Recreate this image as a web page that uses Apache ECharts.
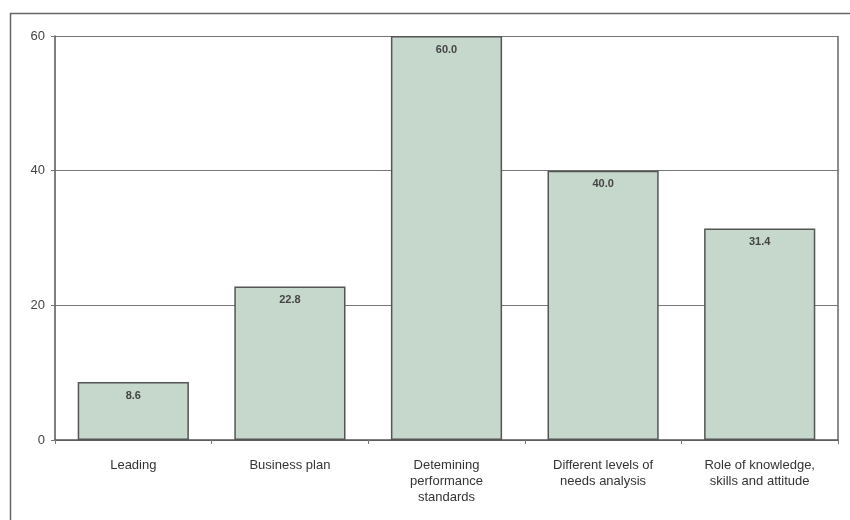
<!DOCTYPE html>
<html><head><meta charset="utf-8">
<script src="https://cdn.jsdelivr.net/npm/echarts@6/dist/echarts.min.js"></script>
<style>html,body{margin:0;padding:0;background:#fff}#c{width:850px;height:520px}</style>
</head><body><div id="c"></div>
<script>
var categories = ['Leading', 'Business plan', 'Detemining\nperformance\nstandards', 'Different levels of\nneeds analysis', 'Role of knowledge,\nskills and attitude'];
var values = [8.6, 22.8, 60.0, 40.0, 31.4];
var yTicks = [0, 20, 40, 60];

var chart = echarts.init(document.getElementById('c'));
chart.setOption({
  animation: false,
  backgroundColor: '#fff',
  graphic: [{
    type: 'rect', left: 8, top: 11, shape: { width: 900, height: 600 },
    style: { fill: 'none', stroke: '#666', lineWidth: 1.5 }, silent: true
  }, {
    type: 'line', shape: { x1: 838, y1: 36, x2: 838, y2: 440 },
    style: { stroke: '#666', lineWidth: 1.5 }, silent: true
  }],
  grid: { left: 55, right: 12, top: 36, bottom: 80 },
  xAxis: {
    type: 'category', data: categories,
    axisLine: { lineStyle: { color: '#555', width: 1.5 } },
    axisTick: { show: true, alignWithLabel: false, length: 4, lineStyle: { color: '#777' } },
    axisLabel: { color: '#333', fontFamily: 'Liberation Sans, Arial', fontSize: 13, lineHeight: 16, margin: 17, interval: 0 }
  },
  yAxis: {
    type: 'value', min: 0, max: 60, interval: 20,
    axisLine: { show: true, lineStyle: { color: '#555', width: 1.5 } },
    axisTick: { show: true, length: 4, lineStyle: { color: '#777' } },
    axisLabel: { color: '#444', fontFamily: 'Liberation Sans, Arial', fontSize: 13, margin: 10 },
    splitLine: { lineStyle: { color: '#777', width: 1.2 } }
  },
  series: [{
    type: 'bar', data: values, barWidth: '71%', barCategoryGap: '29%',
    itemStyle: { color: '#c6d7cc', borderColor: '#555', borderWidth: 1.5 },
    label: {
      show: true, position: 'insideTop', distance: 8,
      formatter: function (p) { return p.value.toFixed(1); },
      color: '#444', fontWeight: 'bold', fontFamily: 'Liberation Sans, Arial', fontSize: 11
    }
  }]
});
</script></body></html>
